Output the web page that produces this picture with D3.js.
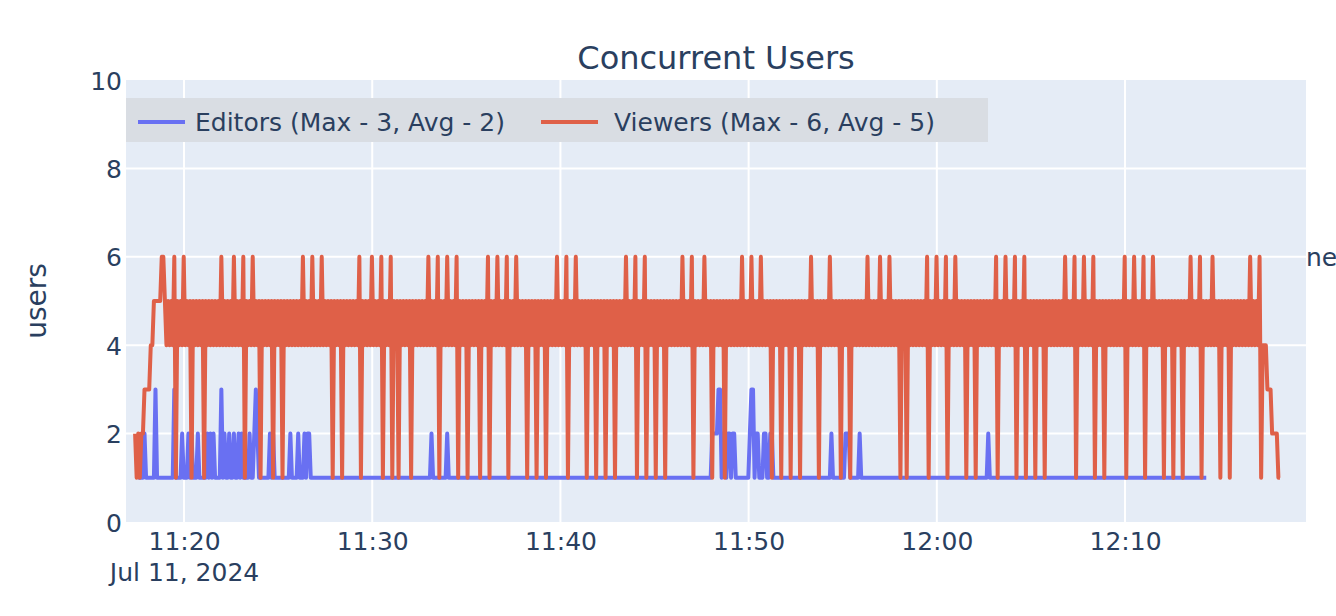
<!DOCTYPE html>
<html><head><meta charset="utf-8">
<script src="https://cdn.jsdelivr.net/npm/d3@7"></script>
<style>
html,body{margin:0;padding:0;background:#fff;overflow:hidden}
svg{display:block}
text{font-family:"DejaVu Sans",Verdana,sans-serif;fill:#2a3f5f}
</style>
</head><body>
<svg id="chart" width="1336" height="616"></svg>
<script>
// ---------------- data ----------------
const chartTitle = "Concurrent Users";
const yAxisTitle = "users";
const seriesNames = ["Editors (Max - 3, Avg - 2)", "Viewers (Max - 6, Avg - 5)"];
const annotationText = "new";
const xTickTimes = ["2024-07-11T11:20:00","2024-07-11T11:30:00","2024-07-11T11:40:00",
                    "2024-07-11T11:50:00","2024-07-11T12:00:00","2024-07-11T12:10:00"];
const xTickLabels = ["11:20","11:30","11:40","11:50","12:00","12:10"];
const xDateLabel = "Jul 11, 2024";
const yTicks = [0, 2, 4, 6, 8, 10];
const xDomain = ["2024-07-11T11:16:55", "2024-07-11T12:19:37"];
const yDomain = [0, 10];
const sampleStepSeconds = 5;
const viewersStart = "2024-07-11T11:17:24";
const editorsStart = "2024-07-11T11:17:34";

// one digit per sample (users online)
const viewersRows = [
  "2121223333","4455555665","4545461545","4645451545","4545154545",
  "4545464545","4546454546","1545464545","1545454515","4545154545",
  "4545454645","4546454546","4545451545","4515454545","4546154545",
  "4645454615","4546154515","4545451545","4545454645","4546154546",
  "4545461545","4515454545","1545461545","4645454615","4546454545",
  "1545451545","4515454546","4545461545","4645454515","4545154545",
  "1545451545","4546454546","1545461545","4515454515","4545454546",
  "4545461545","4546454515","4545451545","4545454645","4546454546",
  "4545451545","4515454515","4545154545","4645451545","4546454545",
  "1545451545","4545454645","4545464545","4645454515","4515454545",
  "4545461545","4645454615","4546454545","1545451545","4545454546",
  "1545464545","4615454615","4545154545","1545454545","4546454546",
  "1545464545","4615454515","4545454545","4615454645","4546154546",
  "4545451545","4515454515","4546454546","1545454645","4515454515",
  "4545454545","4645454614","44333222211"
];
const editorsRows = [
  "11112111","1113111111","1111131111","2111212111","2111112121",
  "2111131211","2112112121","1112112321","1111112121","1111111112",
  "1111211121","2211111111","1111111111","1111111111","1111111111",
  "1111111111","1111111111","1111111111","1111111112","1111111112",
  "1111111111","1111111111","1111111111","1111111111","1111111111",
  "1111111111","1111111111","1111111111","1111111111","1111111111",
  "1111111111","1111111111","1111111111","1111111111","1111111111",
  "1111111111","1111111122","2233122122","1221111111","1123312211",
  "1221122111","1111111111","1111111111","1111111111","1111211111",
  "1112221111","1121111111","1111111111","1111111111","1111111111",
  "1111111111","1111111111","1111111111","1111111111","1111211111",
  "1111111111","1111111111","1111111111","1111111111","1111111111",
  "1111111111","1111111111","1111111111","1111111111","1111111111",
  "1111111111","1111111111","1111111111","1111"
];
const seriesColors = ["#6970F2", "#DF6048"];

// ---------------- build ----------------
const viewers = Array.from(viewersRows.join(""), Number);
const editors = Array.from(editorsRows.join(""), Number);
function toPoints(values, start) {
  const t0 = new Date(start).getTime();
  return values.map((v, i) => ({t: new Date(t0 + i * sampleStepSeconds * 1000), v}));
}
const series = [
  {name: seriesNames[0], pts: toPoints(editors, editorsStart), color: seriesColors[0]},
  {name: seriesNames[1], pts: toPoints(viewers, viewersStart), color: seriesColors[1]}
];

const FONT = '"DejaVu Sans",Verdana,sans-serif';
const W = 1336, H = 616;
const m = {left: 126, right: 30, top: 80, bottom: 94};
const pw = W - m.left - m.right, ph = H - m.top - m.bottom;

const svg = d3.select("#chart");
const x = d3.scaleTime().domain(xDomain.map(d => new Date(d))).range([0, pw]);
const y = d3.scaleLinear().domain(yDomain).range([ph, 0]);

const g = svg.append("g").attr("transform", `translate(${m.left},${m.top})`);
g.append("rect").attr("width", pw).attr("height", ph).attr("fill", "#E5ECF6");

const xTickDates = xTickTimes.map(d => new Date(d));
// grid
g.append("g").selectAll("line").data(xTickDates).join("line")
  .attr("x1", d => x(d)).attr("x2", d => x(d)).attr("y1", 0).attr("y2", ph)
  .attr("stroke", "#fff").attr("stroke-width", 2);
g.append("g").selectAll("line").data(yTicks.filter(v => v > yDomain[0] && v < yDomain[1])).join("line")
  .attr("x1", 0).attr("x2", pw).attr("y1", d => y(d)).attr("y2", d => y(d))
  .attr("stroke", "#fff").attr("stroke-width", 2);

// x axis
const xAxis = g.append("g").attr("transform", `translate(0,${ph})`)
  .call(d3.axisBottom(x).tickValues(xTickDates).tickSize(0).tickPadding(0)
    .tickFormat((d, i) => xTickLabels[i]));
xAxis.select(".domain").remove();
xAxis.selectAll("text").attr("y", 28).attr("dy", 0).attr("font-size", 25)
  .style("font-family", FONT).attr("fill", "#2a3f5f");
xAxis.select(".tick text").append("tspan").attr("x", 0).attr("dy", 31).text(xDateLabel);

// y axis
const yAxis = g.append("g")
  .call(d3.axisLeft(y).tickValues(yTicks).tickSize(0).tickPadding(4).tickFormat(d3.format("d")));
yAxis.select(".domain").remove();
yAxis.selectAll("text").attr("font-size", 25).attr("dy", "0.36em")
  .style("font-family", FONT).attr("fill", "#2a3f5f");

// clip
svg.append("defs").append("clipPath").attr("id", "clip").append("rect")
  .attr("width", pw).attr("height", ph);

const line = d3.line().x(d => x(d.t)).y(d => y(d.v));
const lines = g.append("g").attr("clip-path", "url(#clip)");
lines.selectAll("path").data(series).join("path")
  .attr("d", d => line(d.pts)).attr("fill", "none")
  .attr("stroke", d => d.color).attr("stroke-width", 4)
  .attr("stroke-linejoin", "round").attr("stroke-linecap", "butt");

// legend
const lg = g.append("g");
lg.append("rect").attr("x", 0).attr("y", 18).attr("width", 862).attr("height", 44).attr("fill", "#D9DDE3");
const legendPos = [{lx1: 12, lx2: 59, tx: 69}, {lx1: 415, lx2: 472, tx: 488}];
series.forEach((s, i) => {
  lg.append("line").attr("x1", legendPos[i].lx1).attr("x2", legendPos[i].lx2)
    .attr("y1", 42).attr("y2", 42).attr("stroke", s.color).attr("stroke-width", 4);
  lg.append("text").attr("x", legendPos[i].tx).attr("y", 51).attr("font-size", 25)
    .style("font-family", FONT).text(s.name);
});

// title
svg.append("text").attr("x", m.left + pw / 2).attr("y", 69).attr("text-anchor", "middle")
  .attr("font-size", 32).style("font-family", FONT).text(chartTitle);
// y title
svg.append("text").attr("transform", `translate(46,${m.top + ph / 2}) rotate(-90)`)
  .attr("text-anchor", "middle").attr("font-size", 28).style("font-family", FONT).text(yAxisTitle);
// annotation at right edge
svg.append("text").attr("x", m.left + pw).attr("y", m.top + y(6) + 9).attr("font-size", 25)
  .style("font-family", FONT).text(annotationText);
</script>
</body></html>
